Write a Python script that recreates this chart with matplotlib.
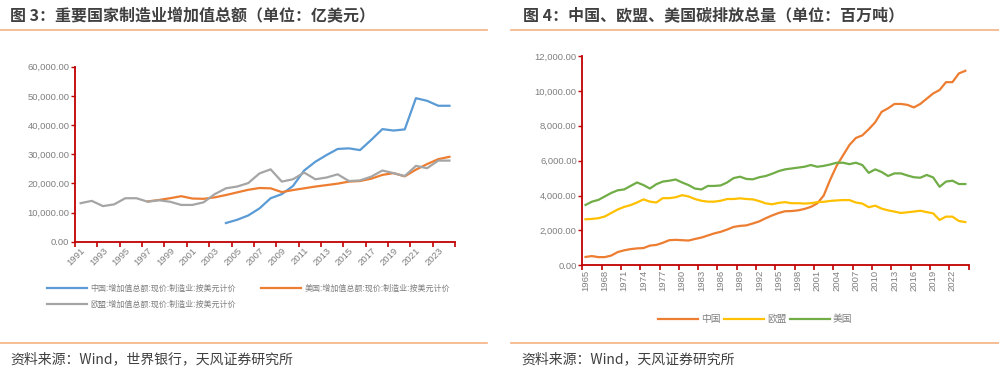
import numpy as np
import matplotlib
matplotlib.use("Agg")
import matplotlib.pyplot as plt
from matplotlib.ticker import FuncFormatter

plt.rcParams["font.family"] = ["Noto Sans CJK SC", "DejaVu Sans"]

# ── Data: figure 3 (亿美元) ────────────────────────────────────────────────────
YEARS_L = list(range(1991, 2025))
CHINA_MFG = [np.nan] * 13 + [
    6400, 7500, 9000, 11400, 14900, 16300, 19100, 24400, 27400, 29700,
    31800, 32000, 31400, 34900, 38600, 38100, 38500, 49200, 48300, 46600, 46600]
US_MFG = [np.nan] * 6 + [
    13800, 14300, 14900, 15600, 14800, 14700, 15200, 16000, 16900, 17800,
    18400, 18300, 17000, 17700, 18300, 18900, 19400, 19900, 20600, 20800,
    21600, 22900, 23500, 22400, 24700, 26600, 28300, 29100]
EU_MFG = [
    13200, 14000, 12200, 12800, 14900, 14900, 13700, 14200, 13700, 12600,
    12600, 13500, 16300, 18300, 18900, 20100, 23400, 24800, 20600, 21400,
    23700, 21400, 22000, 23100, 20800, 21000, 22300, 24400, 23500, 22500,
    26000, 25200, 27800, 27800]
LEGEND_L = ["中国:增加值总额:现价:制造业:按美元计价",
            "美国:增加值总额:现价:制造业:按美元计价",
            "欧盟:增加值总额:现价:制造业:按美元计价"]

# ── Data: figure 4 (百万吨) ────────────────────────────────────────────────────
YEARS_R = list(range(1965, 2025))
CHINA_CO2 = [
    480, 530, 470, 470, 560, 760, 860, 930, 970, 990,
    1130, 1170, 1290, 1440, 1460, 1440, 1420, 1510, 1590, 1710,
    1830, 1920, 2050, 2200, 2260, 2290, 2400, 2520, 2700, 2860,
    3000, 3100, 3110, 3150, 3230, 3350, 3550, 4000, 4900, 5700,
    6300, 6900, 7300, 7450, 7800, 8200, 8800, 9000, 9250, 9250,
    9200, 9050, 9250, 9550, 9850, 10050, 10500, 10500, 11000, 11150]
EU_CO2 = [
    2640, 2660, 2700, 2800, 3000, 3200, 3350, 3450, 3600, 3780,
    3650, 3600, 3850, 3850, 3900, 4020, 3950, 3800, 3700, 3650,
    3650, 3700, 3800, 3800, 3840, 3800, 3780, 3680, 3550, 3500,
    3580, 3620, 3560, 3560, 3540, 3560, 3620, 3640, 3690, 3720,
    3740, 3740, 3600, 3540, 3330, 3420, 3250, 3150, 3080, 3000,
    3040, 3080, 3130, 3050, 2980, 2600, 2790, 2790, 2540, 2480]
US_CO2 = [
    3460, 3650, 3750, 3950, 4150, 4300, 4350, 4550, 4750, 4600,
    4400, 4650, 4800, 4850, 4920, 4750, 4600, 4400, 4350, 4550,
    4550, 4580, 4750, 5000, 5080, 4950, 4930, 5050, 5120, 5250,
    5400, 5500, 5550, 5600, 5650, 5750, 5650, 5700, 5780, 5880,
    5880, 5800, 5880, 5750, 5300, 5500, 5350, 5120, 5270, 5270,
    5150, 5050, 5020, 5180, 5040, 4500, 4800, 4850, 4660, 4660]
LEGEND_R = ["中国", "欧盟", "美国"]

# ── Style ─────────────────────────────────────────────────────────────────────
RED = "#C00000"
TICK_GRAY = "#7F7F7F"
TEXT_DARK = "#404040"
RULE = "#F4B183"
TICK_FONT = ["Liberation Sans", "DejaVu Sans"]

fig = plt.figure(figsize=(9.99, 3.78), dpi=100)


def style_axes(ax, n, step, ymax, ystep):
    for s in ("top", "right"):
        ax.spines[s].set_visible(False)
    for s in ("left", "bottom"):
        ax.spines[s].set_color(RED)
        ax.spines[s].set_linewidth(1.3)
    ax.set_xlim(-0.5, n - 0.5)
    ax.set_ylim(0, ymax)
    ax.set_yticks(np.arange(0, ymax + 1, ystep))
    ax.yaxis.set_major_formatter(FuncFormatter(lambda v, p: f"{v:,.2f}"))
    ax.tick_params(axis="y", colors=RED, length=3, width=1, labelcolor=TICK_GRAY,
                   labelsize=6.8, pad=1)
    # tick marks on category boundaries, labels on category centres
    ax.set_xticks(np.arange(-0.5, n, step), minor=True)
    ax.tick_params(axis="x", which="minor", colors=RED, length=3.5, width=1.2)
    ax.tick_params(axis="x", which="major", length=0, labelcolor=TICK_GRAY,
                   labelsize=6.8, pad=3)
    for lab in ax.get_yticklabels():
        lab.set_family(TICK_FONT)


# ── Left chart ────────────────────────────────────────────────────────────────
axl = fig.add_axes([0.0751, 0.3606, 0.3804, 0.463])
xl = np.arange(len(YEARS_L))
axl.plot(xl, CHINA_MFG, color="#5B9BD5", lw=1.6, label=LEGEND_L[0])
axl.plot(xl, US_MFG, color="#ED7D31", lw=1.6, label=LEGEND_L[1])
axl.plot(xl, EU_MFG, color="#A5A5A5", lw=1.6, label=LEGEND_L[2])
style_axes(axl, len(YEARS_L), 2, 60000, 10000)
axl.set_xticks(xl[::2])
axl.set_xticklabels([str(y) for y in YEARS_L[::2]], rotation=45, ha="right",
                    rotation_mode="anchor", family=TICK_FONT)

# legend fills column-wise: order so rows read China, US / EU
hl, ll = axl.get_legend_handles_labels()
order = [0, 2, 1]
fig.legend([hl[i] for i in order], [ll[i] for i in order], ncol=2,
           loc="upper left", bbox_to_anchor=(0.040, 0.268), frameon=False,
           fontsize=5.8, handlelength=5.0, handletextpad=0.4, columnspacing=3.1,
           labelspacing=0.9, labelcolor=TICK_GRAY)

# ── Right chart ───────────────────────────────────────────────────────────────
axr = fig.add_axes([0.5829, 0.2981, 0.3866, 0.5538])
xr = np.arange(len(YEARS_R))
axr.plot(xr, CHINA_CO2, color="#ED7D31", lw=1.6, label=LEGEND_R[0])
axr.plot(xr, EU_CO2, color="#FFC000", lw=1.6, label=LEGEND_R[1])
axr.plot(xr, US_CO2, color="#70AD47", lw=1.6, label=LEGEND_R[2])
style_axes(axr, len(YEARS_R), 3, 12000, 2000)
axr.set_xticks(xr[::3])
axr.set_xticklabels([str(y) for y in YEARS_R[::3]], rotation=90, ha="center",
                    va="top", family=TICK_FONT)
axr.legend(ncol=3, loc="center", bbox_to_anchor=(0.448, -0.256), frameon=False,
           fontsize=7, handlelength=4.1, handletextpad=0.35, columnspacing=0.3,
           labelcolor=TICK_GRAY)

# ── Titles, rules, sources ────────────────────────────────────────────────────
fig.text(10 / 999, 1 - 15 / 378, "图 3：重要国家制造业增加值总额（单位：亿美元）",
         fontsize=11.5, fontweight="bold", color=TEXT_DARK, va="center", ha="left")
fig.text(523 / 999, 1 - 15 / 378, "图 4：中国、欧盟、美国碳排放总量（单位：百万吨）",
         fontsize=11.5, fontweight="bold", color=TEXT_DARK, va="center", ha="left")

for x0, x1 in ((0, 487), (511, 999)):
    for yy in (30, 343):
        fig.add_artist(plt.Line2D([x0 / 999, x1 / 999], [1 - yy / 378] * 2,
                                  color=RULE, lw=1.2))

fig.text(10 / 999, 1 - 359 / 378, "资料来源：Wind，世界银行，天风证券研究所",
         fontsize=10, color=TEXT_DARK, va="center", ha="left")
fig.text(521 / 999, 1 - 359 / 378, "资料来源：Wind，天风证券研究所",
         fontsize=10, color=TEXT_DARK, va="center", ha="left")

fig.savefig("out.png", dpi=100, facecolor="white")
